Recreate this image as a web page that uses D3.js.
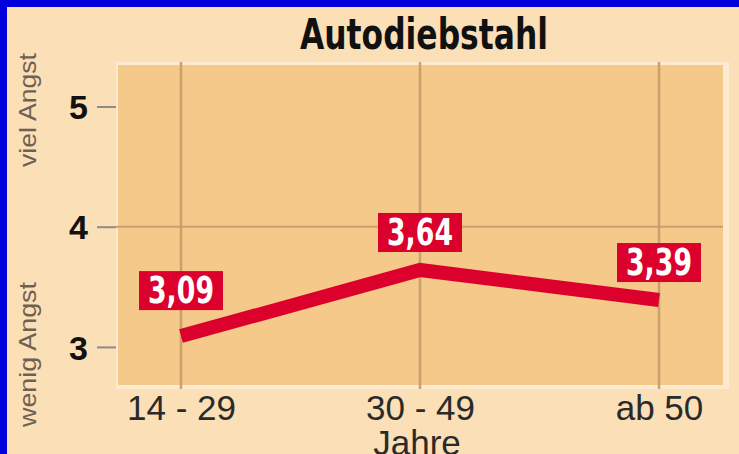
<!DOCTYPE html>
<html>
<head>
<meta charset="utf-8">
<script src="https://cdn.jsdelivr.net/npm/d3@7"></script>
<style>
  html, body { margin: 0; padding: 0; background: #0000dd; }
  svg { display: block; }
</style>
</head>
<body>
<div id="chart"></div>
<script>
// Autodiebstahl — Angst nach Altersgruppe (line chart with value badges)

const ageGroups  = ['14 - 29', '30 - 49', 'ab 50'];
const fearValues = [3.09, 3.64, 3.39];
const yTickVals  = [3, 4, 5];
const gridYVals  = [4];
const title      = 'Autodiebstahl';
const xTitle     = 'Jahre';
const yLabelHigh = 'viel Angst';
const yLabelLow  = 'wenig Angst';

const W = 739, H = 454;
const fmt = v => d3.format('.2f')(v).replace('.', ',');

const C = {
  frame:  '#0000dd',
  bg:     '#fbdfb7',
  plot:   '#f5c98a',
  plotEdge: '#fdead0',
  grid:   '#c9a06e',
  tick:   '#8c8c8c',
  red:    '#dc002c',
  text:   '#111',
  muted:  '#6e6152',
};

const svg = d3.select('#chart').append('svg')
  .attr('width', W).attr('height', H);

// ── Frame & background ─────────────────────────────────────────────────────
svg.append('rect').attr('width', W).attr('height', H).attr('fill', C.frame);
svg.append('rect').attr('x', 7).attr('y', 7)
  .attr('width', W - 7).attr('height', H - 7).attr('fill', C.bg);

// ── Scales ─────────────────────────────────────────────────────────────────
const plot = { left: 116, right: 729, top: 62, bottom: 389 };

const x = d3.scalePoint().domain(ageGroups).range([181, 659]);
const y = d3.scaleLinear().domain([2.65, 5.37]).range([plot.bottom, plot.top]);

// Plot area with a light edge
svg.append('rect')
  .attr('x', plot.left).attr('y', plot.top)
  .attr('width', plot.right - plot.left).attr('height', plot.bottom - plot.top)
  .attr('fill', C.plotEdge);
svg.append('rect')
  .attr('x', plot.left + 2).attr('y', plot.top + 3)
  .attr('width', plot.right - plot.left - 8).attr('height', plot.bottom - plot.top - 7)
  .attr('fill', C.plot);

// ── Grid ───────────────────────────────────────────────────────────────────
svg.append('g').selectAll('line').data(ageGroups).join('line')
  .attr('x1', d => x(d)).attr('x2', d => x(d))
  .attr('y1', plot.top).attr('y2', plot.bottom)
  .attr('stroke', C.grid).attr('stroke-width', 2.5);

svg.append('g').selectAll('line').data(gridYVals).join('line')
  .attr('x1', plot.left).attr('x2', plot.right - 6)
  .attr('y1', d => y(d)).attr('y2', d => y(d))
  .attr('stroke', C.grid).attr('stroke-width', 2);

// ── Y axis (ticks outside the plot) ────────────────────────────────────────
const yAxis = d3.axisLeft(y).tickValues(yTickVals).tickSize(19).tickPadding(9)
  .tickFormat(d3.format('d'));
const gY = svg.append('g').attr('transform', `translate(${plot.left},0)`).call(yAxis);
gY.select('.domain').remove();
gY.selectAll('.tick line').attr('stroke', C.tick).attr('stroke-width', 2);
gY.selectAll('.tick text')
  .attr('fill', C.text)
  .attr('font-family', 'Liberation Sans, Arial, sans-serif')
  .attr('font-weight', 'bold').attr('font-size', 34)
  .attr('dy', '0.36em');

// ── X axis labels ──────────────────────────────────────────────────────────
const xAxis = d3.axisBottom(x).tickSize(0).tickPadding(0);
const gX = svg.append('g').attr('transform', `translate(0,${plot.bottom})`).call(xAxis);
gX.select('.domain').remove();
gX.selectAll('.tick text')
  .attr('y', 31).attr('dy', 0)
  .attr('fill', '#2a2a2a')
  .attr('font-family', 'Liberation Sans, Arial, sans-serif')
  .attr('font-size', 35);

svg.append('text')
  .attr('x', x(ageGroups[1]) - 3).attr('y', 455)
  .attr('text-anchor', 'middle')
  .attr('fill', '#2a2a2a')
  .attr('font-family', 'Liberation Sans, Arial, sans-serif')
  .attr('font-size', 35)
  .text(xTitle);

// ── Title ──────────────────────────────────────────────────────────────────
svg.append('text')
  .attr('x', 424).attr('y', 49)
  .attr('text-anchor', 'middle')
  .attr('fill', C.text)
  .attr('font-family', 'Liberation Sans Narrow, DejaVu Sans Condensed, Arial, sans-serif')
  .attr('font-weight', 'bold').attr('font-size', 42)
  .attr('textLength', 248).attr('lengthAdjust', 'spacingAndGlyphs')
  .text(title);

// ── Rotated side labels ────────────────────────────────────────────────────
[[yLabelHigh, 167, 114], [yLabelLow, 427, 145]].forEach(([txt, y0, len]) => {
  svg.append('text')
    .attr('transform', `translate(36,${y0}) rotate(-90)`)
    .attr('fill', C.muted)
    .attr('font-family', 'Liberation Sans, Arial, sans-serif')
    .attr('font-size', 24)
    .attr('textLength', len).attr('lengthAdjust', 'spacingAndGlyphs')
    .text(txt);
});

// ── Line ───────────────────────────────────────────────────────────────────
const series = ageGroups.map((g, i) => ({ g, v: fearValues[i] }));

svg.append('path').datum(series)
  .attr('d', d3.line().x(d => x(d.g)).y(d => y(d.v)))
  .attr('fill', 'none')
  .attr('stroke', C.red).attr('stroke-width', 14)
  .attr('stroke-linecap', 'butt').attr('stroke-linejoin', 'miter');

// ── Value badges ───────────────────────────────────────────────────────────
const boxW = 84, boxH = 39;
const lift = i => (i === 0 ? 26 : 18);

const badges = svg.append('g').selectAll('g').data(series).join('g')
  .attr('transform', (d, i) => `translate(${x(d.g)},${y(d.v) - lift(i)})`);

badges.append('rect')
  .attr('x', -boxW / 2).attr('y', -boxH)
  .attr('width', boxW).attr('height', boxH)
  .attr('fill', C.red);

badges.append('text')
  .attr('y', -7)
  .attr('text-anchor', 'middle')
  .attr('fill', '#fff')
  .attr('font-family', 'Liberation Sans Narrow, DejaVu Sans Condensed, Arial, sans-serif')
  .attr('font-weight', 'bold').attr('font-size', 37)
  .attr('textLength', 66).attr('lengthAdjust', 'spacingAndGlyphs')
  .text(d => fmt(d.v));
</script>
</body>
</html>
